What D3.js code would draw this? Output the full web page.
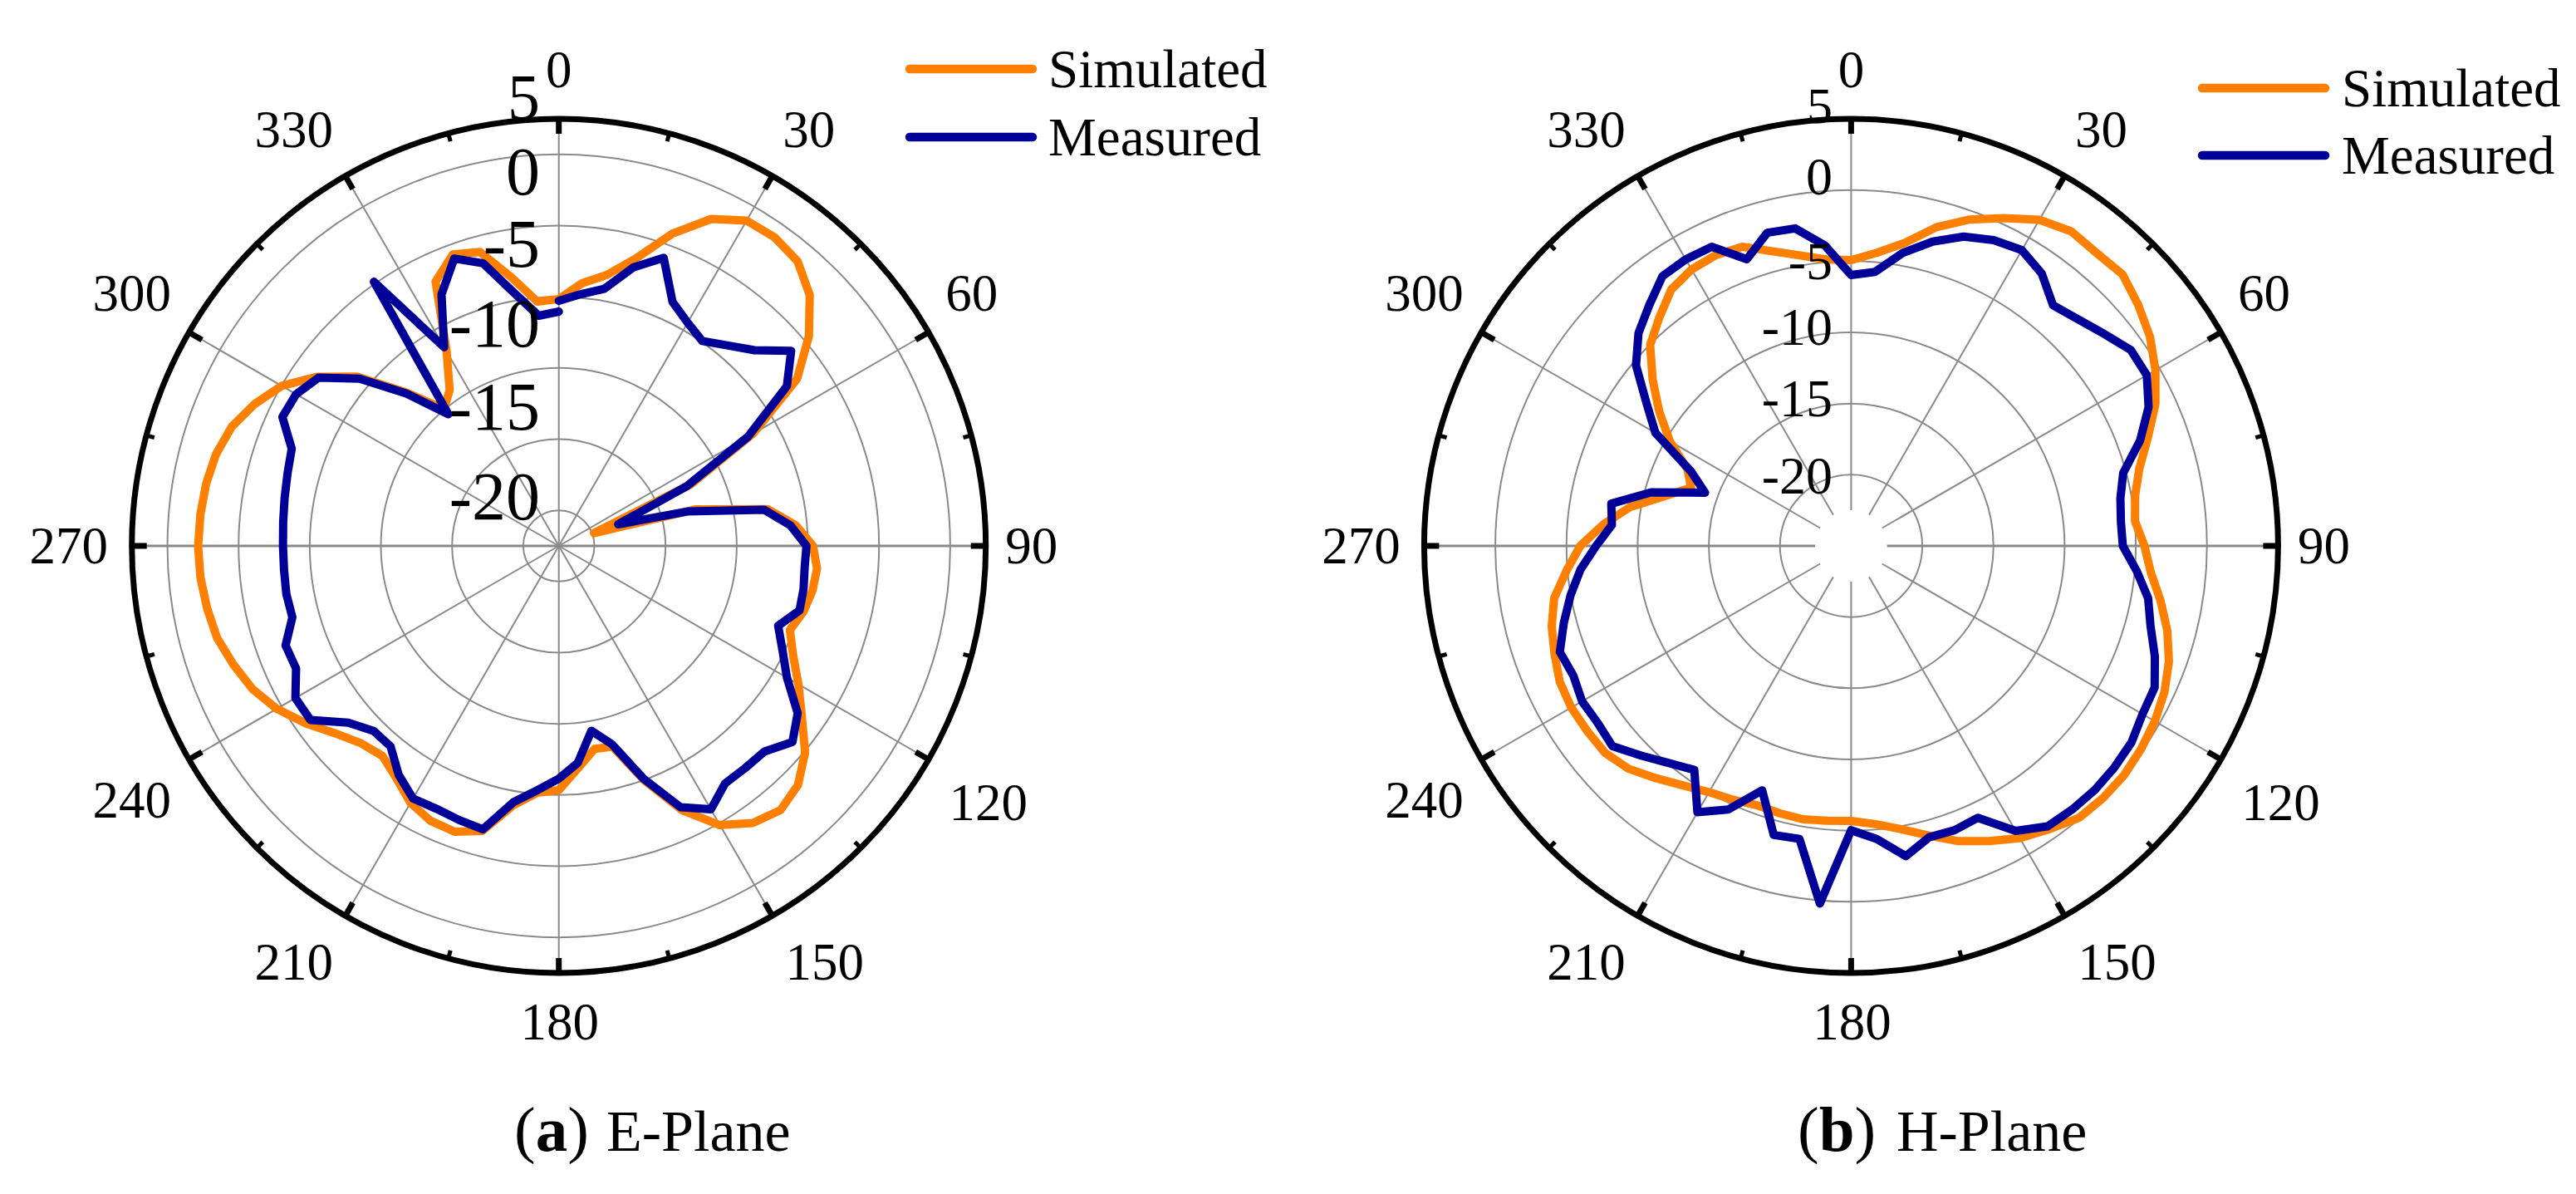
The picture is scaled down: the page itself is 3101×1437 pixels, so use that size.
<!DOCTYPE html>
<html>
<head>
<meta charset="utf-8">
<script src="https://d3js.org/d3.v7.min.js"></script>
<style>
  html, body { margin: 0; padding: 0; background: #fff; }
  text { font-family: "Liberation Serif", serif; fill: #000; }
</style>
</head>
<body>
<svg id="chart" width="3101" height="1437"></svg>
<script>
// pattern sampled every 5 degrees, clockwise from the top
var angleDeg = d3.range(0, 361, 5);

var eSimulated = [-7.66,-6.49,-5.68,-4.10,-1.65,0.34,1.39,1.45,1.10,-0.07,-2.06,-4.57,-9.24,-14.78,-22.37,-15.08,-10.11,-8.30,-7.14,
  -6.79,-6.90,-7.20,-7.72,-6.84,-5.56,-4.16,-2.41,-1.24,-0.77,-1.24,-2.35,-4.51,-7.49,-10.40,-10.52,-9.35,-7.84,
  -7.60,-6.49,-4.28,-3.63,-3.69,-4.16,-5.09,-5.73,-5.38,-4.51,-3.28,-2.12,-1.24,-0.66,-0.13,0.10,0.28,0.34,
  0.28,0.16,-0.07,-0.54,-1.42,-2.52,-4.28,-6.49,-9.70,-12.45,-11.63,-9.24,-4.51,-3.22,-3.63,-5.85,-7.78,-7.66];

var eMeasured = [-7.78,-7.25,-6.67,-4.74,-3.46,-6.09,-6.90,-7.43,-6.61,-5.56,-3.69,-5.44,-9.65,-15.08,-20.56,-15.66,-10.35,-8.65,-7.60,
  -7.66,-7.54,-7.49,-8.60,-7.66,-6.49,-4.51,-3.57,-4.57,-4.63,-4.63,-3.63,-4.74,-7.60,-10.58,-11.81,-9.70,-8.65,
  -7.78,-6.73,-4.39,-4.51,-4.63,-4.51,-5.38,-6.61,-6.61,-5.68,-3.69,-3.63,-4.63,-4.57,-5.62,-5.56,-5.62,-5.62,
  -5.56,-5.44,-5.27,-5.03,-3.57,-3.69,-4.39,-6.73,-9.88,-12.92,-2.35,-8.89,-5.50,-3.52,-4.45,-6.96,-8.77,-8.54];

var hSimulated = [-4.92,-4.33,-3.40,-1.82,-0.60,0.40,1.45,1.97,1.85,1.97,1.33,0.63,-0.31,-1.41,-2.82,-4.04,-4.74,-4.98,-4.39,
  -3.87,-2.93,-2.00,-1.24,-0.71,-0.36,-0.13,0.04,0.04,-0.07,-0.71,-1.30,-2.12,-2.93,-3.93,-4.80,-5.38,-5.68,
  -5.62,-5.50,-5.56,-5.62,-5.33,-5.03,-4.45,-3.69,-2.87,-2.41,-2.35,-2.29,-2.41,-2.82,-3.22,-3.81,-4.92,-5.97,
  -7.54,-9.24,-11.46,-13.03,-12.33,-10.29,-8.54,-6.79,-5.03,-4.04,-2.99,-2.58,-2.47,-2.64,-3.57,-4.28,-4.80,-4.92];

var hMeasured = [-5.97,-5.68,-4.10,-2.87,-1.88,-1.30,-1.01,-1.65,-2.93,-2.47,-1.82,-1.01,-1.01,-1.94,-3.40,-5.21,-5.79,-5.97,-5.91,
  -4.86,-3.81,-3.22,-2.29,-1.47,-1.36,-0.95,-0.83,-0.77,-0.83,-0.95,-1.88,-3.93,-3.75,-3.81,-2.87,-4.33,-5.03,
  0.22,-4.10,-3.98,-6.73,-4.57,-3.40,-5.79,-5.09,-4.16,-3.11,-3.28,-3.17,-3.46,-3.22,-4.10,-4.98,-5.91,-7.08,
  -8.13,-7.89,-10.46,-14.08,-12.57,-9.12,-7.43,-5.27,-3.87,-2.93,-1.88,-1.76,-1.82,-3.57,-2.23,-2.35,-3.81,-5.97];

var seriesNames = ["Simulated", "Measured"];
var seriesColors = ["#FF8000", "#000099"];

var dbDomain = [-25, 5];
var eRings = [-22.5, -17.5, -12.5, -7.5, -2.5, 2.5];
var hRings = [-20, -15, -10, -5, 0];

var angleTicks = d3.range(0, 360, 30);
var minorTicks = d3.range(15, 360, 30);
var dbLabels = ["-20", "-15", "-10", "-5", "0", "5"];

// hand placed in the original, offsets from the plot centre
var angleLabelX = [0, 301, 497, 569, 517, 320, 1, -319, -514, -590, -514, -319];
var angleLabelY = [-552, -480, -283, 21, 330, 522, 594, 522, 327, 21, -283, -480];

var radius = 514;
var svg = d3.select("#chart");

function drawPlot(opts) {
  var rScale = d3.scaleLinear().domain(dbDomain).range([0, radius]);
  var g = svg.append("g").attr("transform", "translate(" + opts.cx + "," + opts.cy + ")");

  // dB labels sit under the outer circle
  dbLabels.forEach(function(label, i) {
    svg.append("text")
      .attr("x", opts.dbRight)
      .attr("y", opts.dbBase[i])
      .attr("text-anchor", "end")
      .attr("font-size", opts.dbSize[i])
      .text(label);
  });

  // rings
  g.selectAll("circle.ring")
    .data(opts.rings)
    .enter().append("circle")
    .attr("class", "ring")
    .attr("r", function(d) { return rScale(d); })
    .attr("fill", "none")
    .attr("stroke", "#8a8a8a")
    .attr("stroke-width", 2);

  // spokes
  g.selectAll("line.spoke")
    .data(angleTicks)
    .enter().append("line")
    .attr("class", "spoke")
    .attr("x1", function(d) { return opts.hole * Math.sin(d * Math.PI / 180); })
    .attr("y1", function(d) { return -opts.hole * Math.cos(d * Math.PI / 180); })
    .attr("x2", function(d) { return radius * Math.sin(d * Math.PI / 180); })
    .attr("y2", function(d) { return -radius * Math.cos(d * Math.PI / 180); })
    .attr("stroke", "#8a8a8a")
    .attr("stroke-width", function(d) { return d % 180 == 90 ? 3 : 2; });

  if (opts.hole > 0) {
    g.append("circle").attr("r", opts.hole).attr("fill", "#fff");
  }

  // outer circle and ticks
  g.append("circle")
    .attr("r", radius)
    .attr("fill", "none")
    .attr("stroke", "#000")
    .attr("stroke-width", 7);

  g.selectAll("line.major")
    .data(angleTicks)
    .enter().append("line")
    .attr("class", "major")
    .attr("x1", function(d) { return radius * Math.sin(d * Math.PI / 180); })
    .attr("y1", function(d) { return -radius * Math.cos(d * Math.PI / 180); })
    .attr("x2", function(d) { return (radius - 18) * Math.sin(d * Math.PI / 180); })
    .attr("y2", function(d) { return -(radius - 18) * Math.cos(d * Math.PI / 180); })
    .attr("stroke", "#000")
    .attr("stroke-width", 7);

  g.selectAll("line.minor")
    .data(minorTicks)
    .enter().append("line")
    .attr("class", "minor")
    .attr("x1", function(d) { return radius * Math.sin(d * Math.PI / 180); })
    .attr("y1", function(d) { return -radius * Math.cos(d * Math.PI / 180); })
    .attr("x2", function(d) { return (radius - 10) * Math.sin(d * Math.PI / 180); })
    .attr("y2", function(d) { return -(radius - 10) * Math.cos(d * Math.PI / 180); })
    .attr("stroke", "#000")
    .attr("stroke-width", 5);

  // curves, simulated first so measured is on top
  var line = d3.lineRadial()
    .angle(function(d) { return d[0] * Math.PI / 180; })
    .radius(function(d) { return rScale(d[1]); });

  opts.series.forEach(function(values, i) {
    g.append("path")
      .datum(d3.zip(angleDeg, values))
      .attr("d", line)
      .attr("fill", "none")
      .attr("stroke", seriesColors[i])
      .attr("stroke-width", 10)
      .attr("stroke-linejoin", "round")
      .attr("stroke-linecap", "round");
  });

  // angle labels
  angleTicks.forEach(function(d, i) {
    g.append("text")
      .attr("x", angleLabelX[i])
      .attr("y", angleLabelY[i])
      .attr("text-anchor", "middle")
      .attr("font-size", 63)
      .text(d);
  });

  // legend
  seriesNames.forEach(function(name, i) {
    svg.append("line")
      .attr("x1", opts.legendX)
      .attr("x2", opts.legendX + 148)
      .attr("y1", opts.legendY[i])
      .attr("y2", opts.legendY[i])
      .attr("stroke", seriesColors[i])
      .attr("stroke-width", 10.5)
      .attr("stroke-linecap", "round");
    svg.append("text")
      .attr("x", opts.legendText)
      .attr("y", opts.legendY[i] + 22)
      .attr("font-size", 65)
      .text(name);
  });

  // caption
  var cap = svg.append("text")
    .attr("x", opts.capX)
    .attr("y", opts.capY)
    .attr("font-size", 77);
  cap.append("tspan").text("(");
  cap.append("tspan").attr("font-weight", "bold").text(opts.capLetter);
  cap.append("tspan").text(")");
  svg.append("text")
    .attr("x", opts.capTextX)
    .attr("y", opts.capY)
    .attr("font-size", 70)
    .text(opts.capText);
}

drawPlot({
  cx: 672.7, cy: 657, hole: 0,
  rings: eRings,
  series: [eSimulated, eMeasured],
  dbRight: 650,
  dbBase: [625, 517, 417, 321, 234, 143],
  dbSize: [82, 82, 82, 82, 82, 78],
  legendX: 1095, legendText: 1262, legendY: [83, 165],
  capX: 619, capY: 1385, capLetter: "a", capTextX: 730, capText: "E-Plane"
});

drawPlot({
  cx: 2228.4, cy: 657, hole: 43,
  rings: hRings,
  series: [hSimulated, hMeasured],
  dbRight: 2206,
  dbBase: [594, 501, 415, 336, 234, 148],
  dbSize: [64, 64, 64, 64, 64, 62],
  legendX: 2651, legendText: 2819, legendY: [106, 187],
  capX: 2164, capY: 1385, capLetter: "b", capTextX: 2283, capText: "H-Plane"
});
</script>
</body>
</html>
